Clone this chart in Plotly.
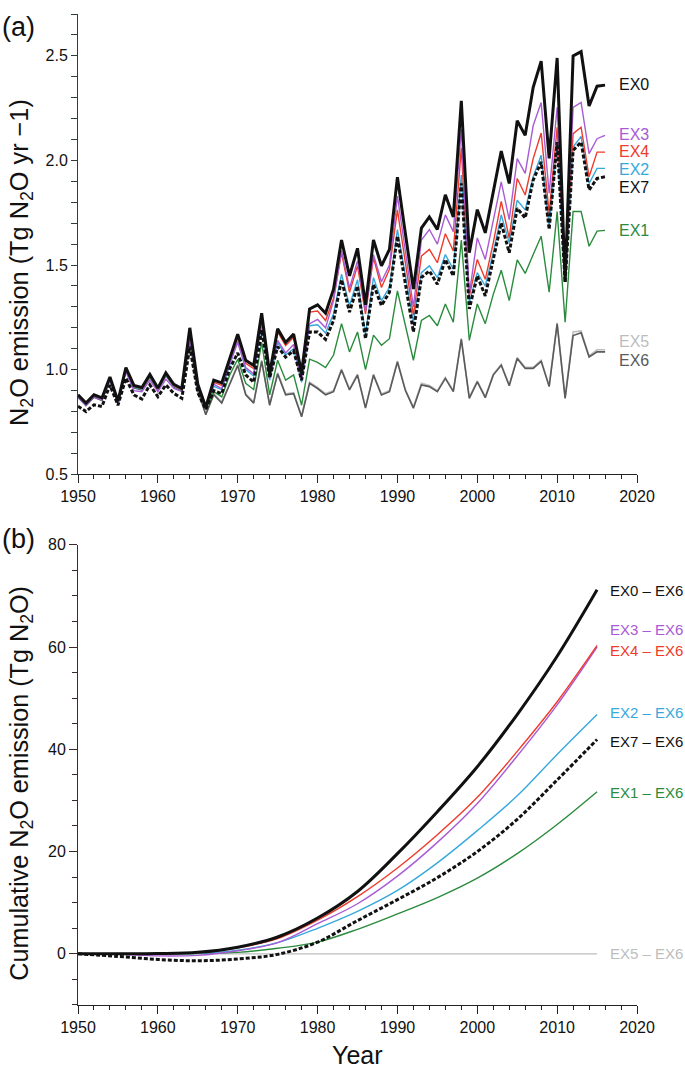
import plotly.graph_objects as go

# ---------------- data: panel (a) annual emission, 1950-2016 ----------------
years_a = list(range(1950, 2017))

ex0 = [0.88, 0.84, 0.88, 0.865, 0.965, 0.85, 1.01, 0.925, 0.915, 0.977,
       0.912, 0.985, 0.93, 0.91, 1.20, 0.93, 0.82, 0.95, 0.937, 1.055,
       1.17, 1.045, 1.02, 1.27, 0.98, 1.195, 1.13, 1.17, 0.985, 1.29,
       1.31, 1.27, 1.385, 1.62, 1.448, 1.58, 1.31, 1.62, 1.496, 1.575,
       1.92, 1.65, 1.385, 1.677, 1.73, 1.67, 1.836, 1.73, 2.285, 1.559,
       1.765, 1.654, 1.85, 2.045, 1.89, 2.19, 2.12, 2.35, 2.475, 2.01,
       2.49, 1.42, 2.50, 2.52, 2.26, 2.355, 2.36]

ex1 = [0.87, 0.83, 0.87, 0.855, 0.955, 0.84, 1.0, 0.915, 0.905, 0.967,
       0.902, 0.975, 0.92, 0.90, 1.16, 0.91, 0.81, 0.895, 0.87, 0.975,
       1.05, 0.935, 0.905, 1.13, 0.88, 1.045, 0.95, 0.975, 0.83, 1.05,
       1.035, 1.01, 1.07, 1.22, 1.085, 1.18, 1.0, 1.165, 1.117, 1.148,
       1.377, 1.21, 1.045, 1.235, 1.259, 1.21, 1.314, 1.227, 1.62, 1.14,
       1.314, 1.22, 1.36, 1.475, 1.33, 1.525, 1.46, 1.55, 1.638, 1.37,
       1.756, 1.227, 1.756, 1.756, 1.59, 1.662, 1.666]

ex2 = [0.872, 0.832, 0.872, 0.857, 0.957, 0.842, 1.002, 0.917, 0.907, 0.969,
       0.904, 0.977, 0.922, 0.902, 1.16, 0.92, 0.82, 0.92, 0.905, 1.02,
       1.14, 1.0, 0.97, 1.22, 0.95, 1.13, 1.07, 1.10, 0.94, 1.21,
       1.215, 1.175, 1.267, 1.456, 1.306, 1.43, 1.17, 1.44, 1.33, 1.393,
       1.67, 1.45, 1.227, 1.464, 1.496, 1.44, 1.55, 1.48, 1.93, 1.32,
       1.464, 1.40, 1.559, 1.74, 1.606, 1.81, 1.764, 1.922, 2.025, 1.685,
       2.088, 1.43, 2.064, 2.115, 1.89, 1.962, 1.962]

ex3 = [0.87, 0.83, 0.87, 0.855, 0.95, 0.84, 0.99, 0.90, 0.895, 0.95,
       0.895, 0.955, 0.91, 0.895, 1.15, 0.91, 0.82, 0.93, 0.91, 1.03,
       1.13, 1.01, 0.98, 1.23, 0.96, 1.14, 1.08, 1.12, 0.95, 1.22,
       1.24, 1.20, 1.33, 1.57, 1.39, 1.52, 1.28, 1.55, 1.42, 1.50,
       1.83, 1.56, 1.30, 1.62, 1.67, 1.60, 1.74, 1.66, 2.15, 1.36,
       1.63, 1.527, 1.717, 1.898, 1.717, 2.009, 1.938, 2.167, 2.277, 1.843,
       2.254, 1.44, 2.254, 2.277, 2.033, 2.104, 2.12]

ex4 = [0.875, 0.835, 0.875, 0.86, 0.96, 0.845, 1.005, 0.92, 0.91, 0.972,
       0.907, 0.98, 0.925, 0.905, 1.18, 0.93, 0.83, 0.94, 0.925, 1.045,
       1.155, 1.03, 1.005, 1.26, 0.98, 1.18, 1.115, 1.155, 0.965, 1.275,
       1.28, 1.235, 1.34, 1.559, 1.37, 1.496, 1.267, 1.535, 1.393, 1.48,
       1.764, 1.51, 1.26, 1.543, 1.575, 1.511, 1.65, 1.567, 2.06, 1.35,
       1.527, 1.432, 1.606, 1.804, 1.63, 1.914, 1.835, 2.009, 2.131, 1.748,
       2.159, 1.46, 2.128, 2.159, 1.922, 2.04, 2.04]

ex5 = [0.87, 0.83, 0.87, 0.855, 0.955, 0.84, 0.998, 0.915, 0.905, 0.967,
       0.902, 0.975, 0.92, 0.9, 1.145, 0.905, 0.79, 0.885, 0.845, 0.935,
       1.025, 0.885, 0.845, 1.045, 0.835, 0.985, 0.885, 0.89, 0.78, 0.94,
       0.915, 0.885, 0.9, 1.003, 0.908, 0.979, 0.821, 0.979, 0.884, 0.9,
       1.042, 0.905, 0.821, 0.935, 0.925, 0.9, 0.963, 0.9, 1.15, 0.868,
       0.947, 0.871, 0.979, 1.026, 0.928, 1.058, 1.011, 1.011, 1.045, 0.924,
       1.224, 0.868, 1.18, 1.185, 1.066, 1.095, 1.095]

ex6 = [0.868, 0.828, 0.868, 0.853, 0.953, 0.838, 0.998, 0.913, 0.903, 0.965,
       0.9, 0.973, 0.918, 0.898, 1.14, 0.90, 0.785, 0.88, 0.84, 0.93,
       1.02, 0.88, 0.84, 1.04, 0.83, 0.98, 0.88, 0.885, 0.775, 0.935,
       0.91, 0.88, 0.895, 0.998, 0.903, 0.974, 0.816, 0.974, 0.879, 0.895,
       1.037, 0.90, 0.816, 0.927, 0.919, 0.895, 0.958, 0.895, 1.145, 0.863,
       0.942, 0.866, 0.974, 1.021, 0.923, 1.053, 1.006, 1.006, 1.04, 0.919,
       1.219, 0.863, 1.163, 1.176, 1.061, 1.085, 1.085]

ex7 = [0.825, 0.80, 0.832, 0.824, 0.927, 0.83, 0.96, 0.879, 0.86, 0.927,
       0.871, 0.927, 0.887, 0.863, 1.11, 0.89, 0.81, 0.90, 0.885, 1.005,
       1.08, 0.975, 0.94, 1.19, 0.96, 1.11, 1.06, 1.09, 0.95, 1.18,
       1.18, 1.145, 1.235, 1.43, 1.275, 1.40, 1.148, 1.408, 1.306, 1.37,
       1.638, 1.416, 1.18, 1.44, 1.472, 1.408, 1.527, 1.448, 1.89, 1.29,
       1.448, 1.353, 1.527, 1.701, 1.559, 1.772, 1.725, 1.906, 1.993, 1.67,
       2.088, 1.417, 2.048, 2.088, 1.859, 1.914, 1.922]

# ---------------- data: panel (b) cumulative differences ----------------
years_b = [1950, 1955, 1960, 1965, 1970, 1975, 1980, 1985, 1990, 1995, 2000, 2005, 2010, 2015]
c_ex0 = [0, 0, 0.05, 0.3, 1.3, 3.3, 7.0, 12.2, 19.6, 27.8, 36.6, 46.8, 58.2, 71.2]
c_ex3 = [0, -0.1, -0.4, -0.3, 0.6, 2.2, 5.9, 9.8, 15.2, 21.8, 29.4, 38.7, 48.7, 60.0]
c_ex4 = [0, 0, 0.05, 0.2, 1.2, 3.0, 6.6, 11.2, 16.8, 23.3, 30.6, 39.6, 49.3, 60.3]
c_ex2 = [0, 0, 0, 0.1, 0.7, 2.2, 5.0, 8.3, 12.4, 17.8, 24.1, 30.9, 39.0, 46.8]
c_ex7 = [0, -0.5, -1.1, -1.35, -1.0, -0.1, 2.3, 6.5, 10.6, 14.9, 20.0, 26.3, 34.0, 41.9]
c_ex1 = [0, 0, 0, 0.05, 0.3, 1.1, 2.3, 4.8, 7.8, 11.0, 14.8, 19.6, 25.3, 31.7]
c_ex5 = [0, 0, 0, 0, 0, 0, 0, 0, 0, 0, 0, 0, 0, 0]

labels_a = ["EX0", "EX3", "EX4", "EX2", "EX7", "EX1", "EX5", "EX6"]
labels_a_y = [2.361, 2.125, 2.041, 1.958, 1.871, 1.663, 1.137, 1.046]
labels_b = ["EX0 – EX6", "EX3 – EX6", "EX4 – EX6", "EX2 – EX6", "EX7 – EX6", "EX1 – EX6", "EX5 – EX6"]
labels_b_y = [71.05, 63.4, 59.3, 47.2, 41.6, 31.6, 0]

# ---------------- styles ----------------
C_BLACK = "#111111"
C_PURPLE = "#a95bd4"
C_RED = "#ee3b2b"
C_BLUE = "#37a8dc"
C_GREEN = "#2b8b3d"
C_LGREY = "#bdbdbd"
C_DGREY = "#5a5a5a"
FONT = "Liberation Sans, Arial, sans-serif"

fig = go.Figure()

def add_line(x, y, color, width, xa, ya, dash="solid", shape="linear"):
    fig.add_trace(go.Scatter(x=x, y=y, mode="lines", xaxis=xa, yaxis=ya,
                             line=dict(color=color, width=width, dash=dash, shape=shape),
                             showlegend=False, hoverinfo="skip"))

# panel (a)
add_line(years_a, ex5, C_LGREY, 1.6, "x", "y")
add_line(years_a, ex6, C_DGREY, 1.6, "x", "y")
add_line(years_a, ex1, C_GREEN, 1.4, "x", "y")
add_line(years_a, ex2, C_BLUE, 1.4, "x", "y")
add_line(years_a, ex4, C_RED, 1.4, "x", "y")
add_line(years_a, ex3, C_PURPLE, 1.4, "x", "y")
add_line(years_a, ex7, C_BLACK, 3, "x", "y", dash="4px,2px")
add_line(years_a, ex0, C_BLACK, 3, "x", "y")

# panel (b)
add_line(years_b, c_ex5, C_LGREY, 1.4, "x2", "y2", shape="spline")
add_line(years_b, c_ex1, C_GREEN, 1.4, "x2", "y2", shape="spline")
add_line(years_b, c_ex2, C_BLUE, 1.4, "x2", "y2", shape="spline")
add_line(years_b, c_ex3, C_PURPLE, 1.4, "x2", "y2", shape="spline")
add_line(years_b, c_ex4, C_RED, 1.4, "x2", "y2", shape="spline")
add_line(years_b, c_ex7, C_BLACK, 3, "x2", "y2", dash="4px,2px", shape="spline")
add_line(years_b, c_ex0, C_BLACK, 3, "x2", "y2", shape="spline")

colors_a = [C_BLACK, C_PURPLE, C_RED, C_BLUE, C_BLACK, C_GREEN, C_LGREY, C_DGREY]
colors_b = [C_BLACK, C_PURPLE, C_RED, C_BLUE, C_BLACK, C_GREEN, C_LGREY]

annotations = []
for t, yv, c in zip(labels_a, labels_a_y, colors_a):
    annotations.append(dict(x=2017.6, y=yv, xref="x", yref="y", text=t, showarrow=False,
                            xanchor="left", yanchor="middle", borderpad=0,
                            font=dict(family=FONT, size=16, color=c)))
for t, yv, c in zip(labels_b, labels_b_y, colors_b):
    annotations.append(dict(x=2016.5, y=yv, xref="x2", yref="y2", text=t, showarrow=False,
                            xanchor="left", yanchor="middle", borderpad=0,
                            font=dict(family=FONT, size=15, color=c)))

# figure occupies the whole 685x1072 page (body margin removed by post_script)
W, H = 685, 1072
L, R, T, B = 78, 48, 6, 67
pw, ph = W - L - R, H - T - B
def px(xr):
    return (xr - L) / pw
def py(yr):
    return (H - B - yr) / ph

annotations += [
    dict(x=px(0), y=py(19), xref="paper", yref="paper", text="(a)", showarrow=False,
         xanchor="left", yanchor="middle", font=dict(family=FONT, size=27, color="#111")),
    dict(x=px(0), y=py(535), xref="paper", yref="paper", text="(b)", showarrow=False,
         xanchor="left", yanchor="middle", font=dict(family=FONT, size=27, color="#111")),
    dict(x=px(21), y=py(257), xref="paper", yref="paper", textangle=-90,
         text="N<sub>2</sub>O emission (Tg N<sub>2</sub>O yr −1)", showarrow=False,
         xanchor="center", yanchor="middle", font=dict(family=FONT, size=25.3, color="#111")),
    dict(x=px(21), y=py(782), xref="paper", yref="paper", textangle=-90,
         text="Cumulative N<sub>2</sub>O emission (Tg N<sub>2</sub>O)", showarrow=False,
         xanchor="center", yanchor="middle", font=dict(family=FONT, size=25.2, color="#111")),
    dict(x=px(357), y=py(1055), xref="paper", yref="paper", text="Year", showarrow=False,
         xanchor="center", yanchor="middle", font=dict(family=FONT, size=25, color="#111")),
]

top_lo = py(470)
bot_hi = py(541)

xax = dict(range=[1950, 2020], tick0=1950, dtick=10, ticks="outside", ticklen=8, tickwidth=1,
           tickcolor="#222", showline=True, linecolor="#222", linewidth=1, showgrid=False,
           zeroline=False, tickfont=dict(family=FONT, size=16, color="#111"),
           minor=dict(dtick=2, tick0=1950, ticks="outside", ticklen=4, tickcolor="#222", showgrid=False))

fig.update_layout(
    width=W, height=H,
    margin=dict(l=L, r=R, t=T, b=B),
    paper_bgcolor="white", plot_bgcolor="white",
    showlegend=False,
    xaxis=dict(xax, anchor="y", domain=[0, 1]),
    yaxis=dict(range=[0.5, 2.7], domain=[top_lo, 1], tick0=0.5, dtick=0.5, tickformat=".1f",
               ticks="outside", ticklen=6, tickwidth=1, tickcolor="#2f3f3f",
               showline=True, linecolor="#2f3f3f", linewidth=1, showgrid=False, zeroline=False,
               tickfont=dict(family=FONT, size=16, color="#111"), anchor="x",
               minor=dict(dtick=0.1, tick0=0.5, ticks="outside", ticklen=6, tickcolor="#2f3f3f", showgrid=False)),
    xaxis2=dict(xax, anchor="y2", domain=[0, 1]),
    yaxis2=dict(range=[-10, 80], domain=[0, bot_hi], tick0=0, dtick=20,
                ticks="outside", ticklen=8, tickwidth=1, tickcolor="#3a2a2a",
                showline=True, linecolor="#3a2a2a", linewidth=1, showgrid=False, zeroline=False,
                tickfont=dict(family=FONT, size=16, color="#111"), anchor="x2",
                minor=dict(dtick=5, tick0=0, ticks="outside", ticklen=5, tickcolor="#3a2a2a", showgrid=False)),
    annotations=annotations,
)

fig.write_html("out.html",
               config={"displayModeBar": False},
               post_script="document.body.style.margin='0';document.body.style.overflow='hidden';")
